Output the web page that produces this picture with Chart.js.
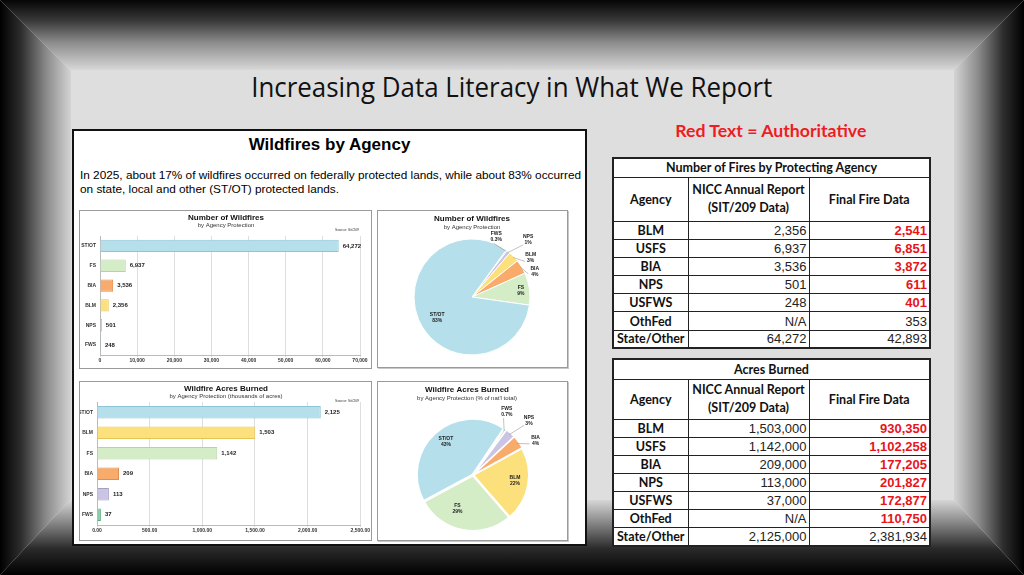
<!DOCTYPE html>
<html><head><meta charset="utf-8">
<script src="https://cdn.jsdelivr.net/npm/chart.js@4.4.1/dist/chart.umd.min.js"></script>
<style>
html,body{margin:0;padding:0;}
body{width:1024px;height:575px;position:relative;overflow:hidden;background:#dedede;font-family:"Liberation Sans",Arial,sans-serif;}
.abs{position:absolute;}
#fTop{left:0;top:0;width:1024px;height:70px;clip-path:polygon(0 0,100% 0,954px 100%,70px 100%);background:linear-gradient(to bottom,#050505 0%,#3a3a3a 30%,#8a8a8a 60%,#d8d8d8 100%);}
#fLeft{left:0;top:0;width:71px;height:575px;clip-path:polygon(0 0,70px 70px,71px 70px,71px 500px,70px 500px,0 575px);background:linear-gradient(to right,#000 0%,#2e2e2e 30%,#8a8a8a 65%,#d4d4d4 100%);}
#fRight{left:954px;top:0;width:70px;height:575px;clip-path:polygon(0 70px,70px 0,70px 575px,0 500px);background:linear-gradient(to left,#000 0%,#2e2e2e 30%,#8a8a8a 65%,#d4d4d4 100%);}
#fBot{left:0;top:500px;width:1024px;height:75px;clip-path:polygon(70px 0,954px 0,100% 100%,0 100%);background:linear-gradient(to top,#000 0%,#2a2a2a 35%,#888 70%,#d6d6d6 100%);}
#title{left:0;top:68px;width:1024px;text-align:center;}
#title span{display:inline-block;font-family:"Open Sans",sans-serif;font-size:27px;color:#111;white-space:nowrap;transform-origin:center;}
#red{left:580px;top:120px;width:381px;text-align:center;}
#red span{display:inline-block;font-family:Lato,sans-serif;font-weight:bold;font-size:17px;color:#ee1c24;white-space:nowrap;transform-origin:center;}
#panel{left:72px;top:129px;width:515px;height:417px;box-sizing:border-box;border:2px solid #111;background:#fff;}
#ptitle{left:72px;top:135px;width:515px;text-align:center;font-weight:bold;font-size:17px;color:#000;}
#ptext{left:80px;top:168px;width:510px;font-size:11.8px;line-height:14px;color:#000;white-space:nowrap;}
.box{box-sizing:border-box;border:1px solid #9a9a9a;background:#fff;}
.pbox{box-shadow:1px 1px 0 #c8c8c8;}
canvas{position:absolute;left:0;top:0;}
table.tbl{position:absolute;border-collapse:collapse;table-layout:fixed;background:#fff;border:2px solid #222;}
table.tbl td,table.tbl th{border:1px solid #222;padding:0;line-height:15px;}
table.tbl th{font-family:Lato,sans-serif;font-weight:bold;font-size:12.5px;color:#111;text-align:center;}
table.tbl td.ag{font-family:Lato,sans-serif;font-weight:bold;font-size:12.5px;color:#111;text-align:center;}
table.tbl td.num{font-family:"Liberation Sans",Arial,sans-serif;font-size:13px;color:#222;text-align:right;padding-right:2px;}
table.tbl td.red{color:#e8141b;font-weight:bold;}
</style></head>
<body>
<div id="fTop" class="abs"></div>
<div id="fBot" class="abs"></div>
<div id="fLeft" class="abs"></div>
<div id="fRight" class="abs"></div>

<div id="title" class="abs"><span id="titleTxt">Increasing Data Literacy in What We Report</span></div>
<div id="red" class="abs"><span id="redTxt">Red Text = Authoritative</span></div>

<div id="panel" class="abs"></div>
<div id="ptitle" class="abs">Wildfires by Agency</div>
<div id="ptext" class="abs"><span id="pl1">In 2025, about 17% of wildfires occurred on federally protected lands, while about 83% occurred</span><br>on state, local and other (ST/OT) protected lands.</div>

<div class="abs box" style="left:79px;top:210px;width:293px;height:159px;"><canvas id="c1" width="291" height="157"></canvas></div>
<div class="abs box pbox" style="left:377px;top:210px;width:191px;height:158px;"><canvas id="c2" width="189" height="156"></canvas></div>
<div class="abs box" style="left:79px;top:381px;width:293px;height:160px;"><canvas id="c3" width="291" height="158"></canvas></div>
<div class="abs box pbox" style="left:377px;top:381px;width:191px;height:160px;"><canvas id="c4" width="189" height="158"></canvas></div>

<table id="t1" class="tbl" style="left:612px;top:157px;width:319px;"></table>
<table id="t2" class="tbl" style="left:612px;top:358px;width:319px;"></table>

<script>
// ---------- DATA ----------
const firesAgencies = ['ST/OT','FS','BIA','BLM','NPS','FWS'];
const firesCounts   = [64272, 6937, 3536, 2356, 501, 248];
const firesTicks    = [0,10000,20000,30000,40000,50000,60000,70000];

const acresAgencies = ['ST/OT','BLM','FS','BIA','NPS','FWS'];
const acresThousands= [2125, 1503, 1142, 209, 113, 37];
const acresTicks    = [0,500,1000,1500,2000,2500];

const firesPieLabels = ['FWS','NPS','BLM','BIA','FS','ST/OT'];
const firesPiePct    = [0.3, 1, 3, 4, 9, 83];

const acresPieLabels = ['FWS','NPS','BIA','BLM','FS','ST/OT'];
const acresPiePct    = [0.7, 3, 4, 22, 29, 43];

const tableAgencies = ['BLM','USFS','BIA','NPS','USFWS','OthFed','State/Other'];
const firesNicc  = [2356, 6937, 3536, 501, 248, null, 64272];
const firesFinal = [2541, 6851, 3872, 611, 401, 353, 42893];
const firesFinalAuthoritative = [true, true, true, true, true, false, false];
const acresNicc  = [1503000, 1142000, 209000, 113000, 37000, null, 2125000];
const acresFinal = [930350, 1102258, 177205, 201827, 172877, 110750, 2381934];
const acresFinalAuthoritative = [true, true, true, true, true, true, false];

// ---------- STYLE ----------
const fillCol = {'ST/OT':'#b4dfeb','FS':'#d4edc7','BIA':'#f8ab6b','BLM':'#fbe07b','NPS':'#cbc5e3','FWS':'#84cda4'};
const edgeCol = {'ST/OT':'#8ec4d6','FS':'#b2d6a2','BIA':'#e18d4f','BLM':'#e2c558','NPS':'#a59fc6','FWS':'#5aae80'};
const pieFill1 = {'ST/OT':'#b4dfeb','FS':'#d4edc7','BIA':'#f8ab6b','BLM':'#fbe07b','NPS':'#cbc5e3','FWS':'#a8a8a8'};
const pieFill2 = {'ST/OT':'#b4dfeb','FS':'#d4edc7','BIA':'#f8ab6b','BLM':'#fbe07b','NPS':'#cbc5e3','FWS':'#84cda4'};
const FONT = '"Liberation Sans", Arial, sans-serif';
Chart.defaults.font.family = FONT;
const fmt = v => v.toLocaleString('en-US');
const fmt2 = v => v.toLocaleString('en-US',{minimumFractionDigits:2,maximumFractionDigits:2});

const boxTitle = {
  id:'boxTitle',
  afterDraw(chart, args, o){
    const ctx = chart.ctx; ctx.save();
    ctx.textAlign='center'; ctx.textBaseline='middle'; ctx.fillStyle='#111';
    ctx.font = 'bold 8px '+FONT; ctx.fillText(o.title, o.cx, o.ty);
    ctx.fillStyle='#333'; ctx.font = '6px '+FONT; ctx.fillText(o.sub, o.cx, o.sy);
    if (o.src){ ctx.textAlign='right'; ctx.font='3.5px '+FONT; ctx.fillText(o.src, o.srcX, o.srcY); }
    ctx.restore();
  }
};
const barValues = {
  id:'barValues',
  afterDatasetsDraw(chart, args, o){
    const ctx = chart.ctx, meta = chart.getDatasetMeta(0), d = chart.data.datasets[0].data;
    ctx.save(); ctx.font='bold 6px '+FONT; ctx.fillStyle='#222'; ctx.textBaseline='middle'; ctx.textAlign='left';
    meta.data.forEach((b,i)=>ctx.fillText(fmt(d[i]), b.x+4, b.y));
    ctx.restore();
  }
};
const pieLabels = {
  id:'pieLabels',
  afterDatasetsDraw(chart, args, o){
    const ctx = chart.ctx, meta = chart.getDatasetMeta(0), d = chart.data.datasets[0].data, L = chart.data.labels;
    ctx.save(); ctx.font='bold 5px '+FONT; ctx.fillStyle='#222'; ctx.textAlign='center'; ctx.textBaseline='middle';
    meta.data.forEach((arc,i)=>{
      const mid = (arc.startAngle+arc.endAngle)/2;
      const a = mid + o.adj[i][0]*Math.PI/180;
      const R = arc.outerRadius, r = o.adj[i][1]*R;
      const x = arc.x+Math.cos(a)*r, y = arc.y+Math.sin(a)*r;
      if (o.adj[i][1] > 1){
        ctx.strokeStyle='#999'; ctx.lineWidth=0.6; ctx.beginPath();
        ctx.moveTo(arc.x+Math.cos(mid)*(R-1), arc.y+Math.sin(mid)*(R-1));
        ctx.lineTo(arc.x+Math.cos(a)*(r-7), arc.y+Math.sin(a)*(r-7)); ctx.stroke();
      }
      ctx.fillText(L[i], x, y-3);
      ctx.fillText(d[i]+'%', x, y+3);
    });
    ctx.restore();
  }
};

function barChart(id, labels, values, ticks, tfmt, pad, yW, xH, tOpts){
  return new Chart(document.getElementById(id), {
    type:'bar',
    data:{labels, datasets:[{data:values, backgroundColor:labels.map(l=>fillCol[l]), borderColor:labels.map(l=>edgeCol[l]), borderWidth:1, categoryPercentage:1, barPercentage:0.62}]},
    options:{
      indexAxis:'y', responsive:false, animation:false, devicePixelRatio:1,
      layout:{padding:pad},
      scales:{
        x:{min:ticks[0], max:ticks[ticks.length-1], afterBuildTicks(s){s.ticks=ticks.map(v=>({value:v}));},
           ticks:{font:{size:5,weight:'bold'}, color:'#333', padding:1, maxRotation:0, autoSkip:false, callback:v=>tfmt(v)},
           grid:{color:'#dedede', tickLength:2}, border:{color:'#bbb'}, afterFit(s){s.height=xH;}},
        y:{ticks:{font:{size:5,weight:'bold'}, color:'#333', padding:4}, grid:{display:false, drawTicks:false, tickLength:0}, border:{color:'#bbb'}, afterFit(s){s.width=yW;}}
      },
      plugins:{legend:{display:false}, tooltip:{enabled:false}, boxTitle:tOpts}
    },
    plugins:[boxTitle, barValues]
  });
}
function pieChart(id, labels, values, fills, rot, radius, pad, bw, off, adj, tOpts){
  return new Chart(document.getElementById(id), {
    type:'pie',
    data:{labels, datasets:[{data:values, backgroundColor:labels.map(l=>fills[l]), borderColor:'#fff', borderWidth:bw, offset:off}]},
    options:{
      responsive:false, animation:false, devicePixelRatio:1, rotation:rot, radius:radius,
      layout:{padding:pad},
      plugins:{legend:{display:false}, tooltip:{enabled:false}, boxTitle:tOpts, pieLabels:{adj}}
    },
    plugins:[boxTitle, pieLabels]
  });
}

barChart('c1', firesAgencies, firesCounts, firesTicks, fmt, {left:0,right:11,top:25,bottom:1}, 20, 12,
  {title:'Number of Wildfires', sub:'by Agency Protection', cx:146, ty:7, sy:14, src:'Source: Sit/209', srcX:279, srcY:19});
barChart('c3', acresAgencies, acresThousands, acresTicks, fmt2, {left:0,right:10,top:20,bottom:1}, 17, 14,
  {title:'Wildfire Acres Burned', sub:'by Agency Protection (thousands of acres)', cx:146, ty:7, sy:14, src:'Source: Sit/209', srcX:279, srcY:19});
pieChart('c2', firesPieLabels, firesPiePct, pieFill1, 36, 58, {left:34,right:35,top:26,bottom:10}, 1, 0,
  [[-14.6,1.12],[5.6,1.38],[10,1.22],[9,1.17],[1,0.85],[-8,0.7]],
  {title:'Number of Wildfires', sub:'by Agency Protection', cx:94, ty:8, sy:16});
pieChart('c4', acresPieLabels, acresPiePct, pieFill2, 34, 55, {left:35,right:34,top:33,bottom:5}, 1.5, 3,
  [[-7,1.3],[4,1.42],[7,1.3],[-3,0.77],[14,0.68],[3,0.78]],
  {title:'Wildfire Acres Burned', sub:"by Agency Protection (% of nat'l total)", cx:89, ty:8, sy:16});

// ---------- TABLES ----------
function buildTable(id, caption, nicc, fin, auth, h1, h2, rh){
  const t = document.getElementById(id);
  let html = `<colgroup><col style="width:75px"><col style="width:121px"><col></colgroup>`;
  html += `<tr style="height:${h1}px"><th colspan="3">${caption}</th></tr>`;
  html += `<tr style="height:${h2}px"><th>Agency</th><th style="line-height:18px">NICC Annual Report<br>(SIT/209 Data)</th><th>Final Fire Data</th></tr>`;
  tableAgencies.forEach((a,i)=>{
    html += `<tr style="height:${rh}px"><td class="ag">${a}</td><td class="num">${nicc[i]===null?'N/A':fmt(nicc[i])}</td><td class="num${auth[i]?' red':''}">${fmt(fin[i])}</td></tr>`;
  });
  t.innerHTML = html;
}
buildTable('t1','Number of Fires by Protecting Agency', firesNicc, firesFinal, firesFinalAuthoritative, 19, 44, 18.2);
buildTable('t2','Acres Burned', acresNicc, acresFinal, acresFinalAuthoritative, 20, 40, 18.1);

function fit(id, w){ const el=document.getElementById(id); el.style.transform='none'; const r=el.getBoundingClientRect().width; el.style.transform=`scaleX(${w/r})`; }
function doFit(){ fit('titleTxt',521); fit('redTxt',191); }
doFit();
if (document.fonts && document.fonts.ready) document.fonts.ready.then(doFit);
</script>
</body></html>
